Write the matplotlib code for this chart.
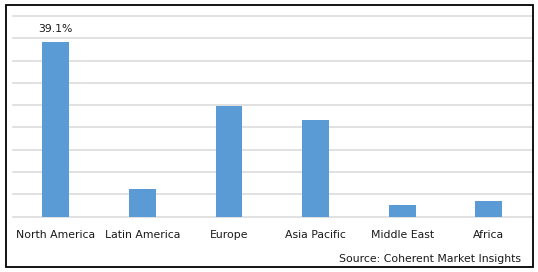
import matplotlib.pyplot as plt
from matplotlib.patches import Rectangle

regions = ["North America", "Latin America", "Europe", "Asia Pacific", "Middle East", "Africa"]
share = [39.1, 6.2, 24.9, 21.6, 2.6, 3.5]
label_text = ["39.1%", "", "", "", "", ""]
grid_ticks = [0, 5, 10, 15, 20, 25, 30, 35, 40, 45]

fig = plt.figure(figsize=(5.38, 2.72), dpi=100)
ax = fig.add_axes([12.5 / 538, 1 - 216.7 / 272, 519.5 / 538, 200.7 / 272])

x = range(len(regions))
bars = ax.bar(x, share, width=0.31, color="#5B9BD5", zorder=3)
ax.bar_label(bars, labels=label_text, padding=6, fontsize=7.8, color="#1a1a1a")

ax.set_xlim(-0.5, len(regions) - 0.5)
ax.set_ylim(0, 45)
ax.set_yticks(grid_ticks)
ax.yaxis.grid(True, color="#D9D9D9", linewidth=1.1)
for gl in ax.get_ygridlines():
    gl.set_clip_on(False)
ax.tick_params(axis="y", left=False, labelleft=False)
ax.set_xticks(list(x))
ax.set_xticklabels(regions, fontsize=7.8, color="#1a1a1a")
ax.tick_params(axis="x", length=0, pad=9.5)
for side in ["top", "right", "left", "bottom"]:
    ax.spines[side].set_visible(False)

fig.text(521 / 538, 1 - 259 / 272, "Source: Coherent Market Insights",
         ha="right", va="center", fontsize=7.8, color="#1a1a1a")

fig.patches.append(Rectangle((6 / 538, 5 / 272), 527 / 538, 262 / 272,
                             transform=fig.transFigure, fill=False,
                             edgecolor="black", linewidth=1.3))

fig.savefig("out.png", dpi=100)
plt.close(fig)
